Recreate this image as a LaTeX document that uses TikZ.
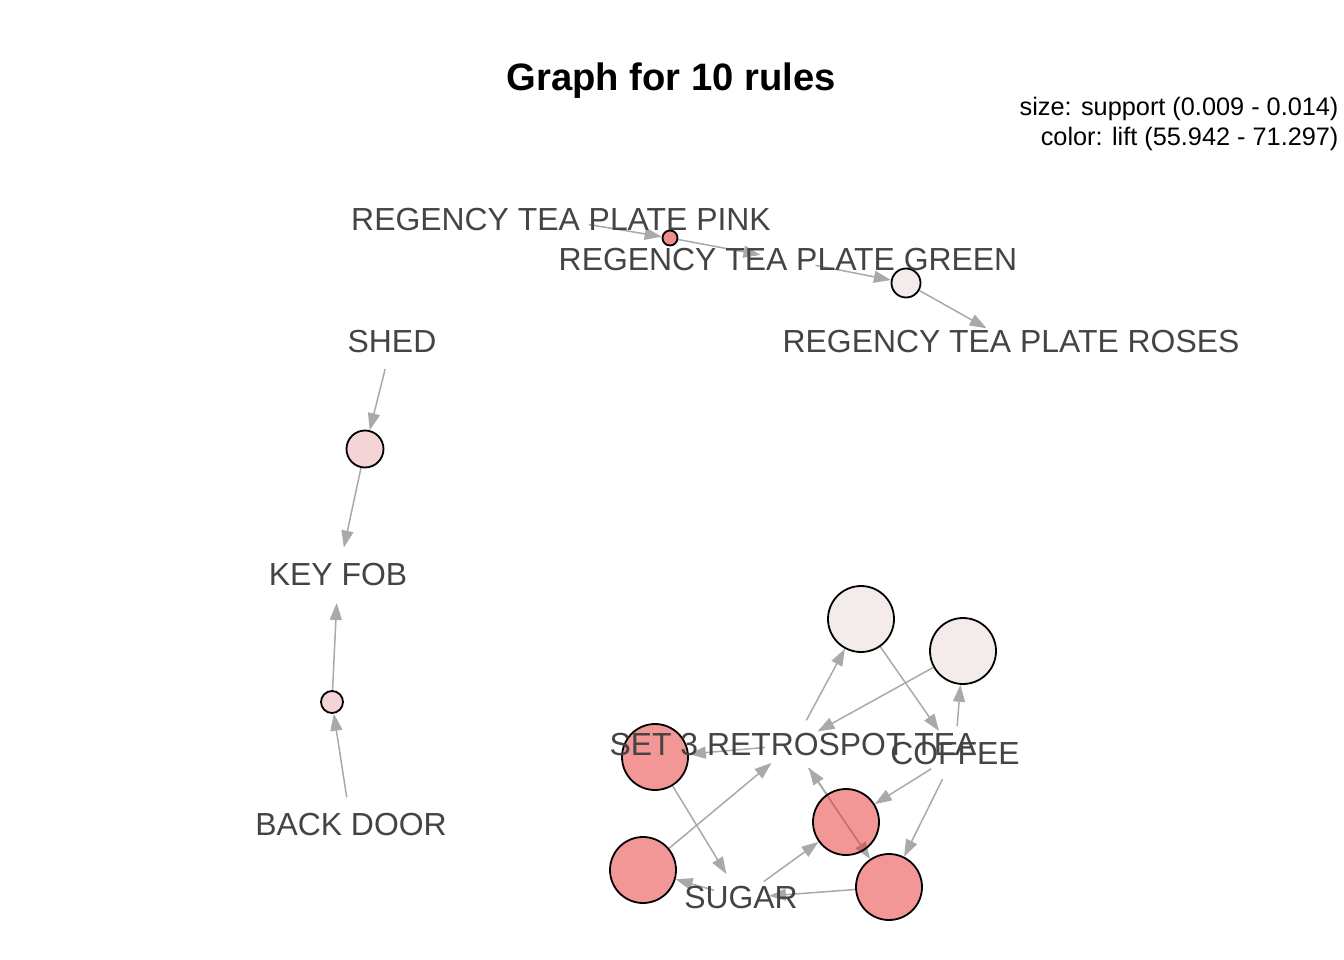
\documentclass[tikz,border=0pt]{standalone}
\usepackage{fontspec}
\setmainfont{Liberation Sans}
\usetikzlibrary{arrows.meta,backgrounds}
\definecolor{edgec}{RGB}{169,169,169}
\definecolor{txtc}{RGB}{68,68,68}
\definecolor{redc}{RGB}{229,45,45}
\definecolor{ronec}{RGB}{225,25,25}
\definecolor{palec}{RGB}{231,217,213}
\definecolor{pinkc}{RGB}{233,169,169}
\begin{document}
\begin{tikzpicture}[x=1pt,y=-1pt,
  itemv/.style={circle,minimum size=56pt,inner sep=0pt,outer sep=0pt},
  itemtxt/.style={text=txtc,font=\fontsize{31.9}{36}\selectfont,inner sep=0pt},
  rulev/.style={circle,draw=black,line width=1.8pt,inner sep=0pt,fill opacity=0.5},
  edge/.style={draw=edgec,line width=1.5pt,-{Triangle[length=17pt,width=12pt]}}]
\useasboundingbox (0,0) rectangle (1344,960);

% title and legend
\node[anchor=base,font=\bfseries\fontsize{38.2}{40}\selectfont] (title) at (671,91) {Graph for 10 rules};
\node[anchor=base east,font=\fontsize{25.3}{28}\selectfont] (leg1) at (1342,115.5) {size: support (0.009 - 0.014)};
\node[anchor=base east,font=\fontsize{25.3}{28}\selectfont] (leg2) at (1342,145.5) {color: lift (55.942 - 71.297)};

% rule vertices
\node[rulev,minimum size=15pt,fill=ronec] (r1) at (670,238) {};
\node[rulev,minimum size=29pt,fill=palec] (r2) at (906,283) {};
\node[rulev,minimum size=37pt,fill=pinkc] (r3) at (365,449) {};
\node[rulev,minimum size=22pt,fill=pinkc] (r4) at (332,702) {};
\node[rulev,minimum size=66pt,fill=palec] (ra) at (861,619) {};
\node[rulev,minimum size=66pt,fill=palec] (rb) at (963,651) {};
\node[rulev,minimum size=66pt,fill=redc] (rc) at (655,757) {};
\node[rulev,minimum size=66pt,fill=redc] (rd) at (643,870) {};
\node[rulev,minimum size=66pt,fill=redc] (re) at (846,822) {};
\node[rulev,minimum size=66pt,fill=redc] (rf) at (889,887) {};

% item vertices
\node[itemv,label={[itemtxt]center:REGENCY TEA PLATE PINK}] (pink) at (561,220) {};
\node[itemv,label={[itemtxt]center:REGENCY TEA PLATE GREEN}] (green) at (788,260) {};
\node[itemv,label={[itemtxt]center:REGENCY TEA PLATE ROSES}] (roses) at (1011,342) {};
\node[itemv,label={[itemtxt]center:SHED}] (shed) at (392,342) {};
\node[itemv,label={[itemtxt]center:KEY FOB}] (keyfob) at (338,575) {};
\node[itemv,label={[itemtxt]center:BACK DOOR}] (backdoor) at (351,825) {};
\node[itemv,label={[itemtxt]center:SET 3 RETROSPOT TEA}] (set3) at (793,745) {};
\node[itemv,label={[itemtxt]center:COFFEE}] (coffee) at (955,754) {};
\node[itemv,label={[itemtxt]center:SUGAR}] (sugar) at (741,898) {};

% edges
\begin{pgfonlayer}{background}
\draw[edge] (pink) -- (r1);
\draw[edge] (r1) -- (green);
\draw[edge] (green) -- (r2);
\draw[edge] (r2) -- (roses);
\draw[edge] (shed) -- (r3);
\draw[edge] (r3) -- (keyfob);
\draw[edge] (backdoor) -- (r4);
\draw[edge] (r4) -- (keyfob);
\draw[edge] (set3) -- (ra);
\draw[edge] (ra) -- (coffee);
\draw[edge] (coffee) -- (rb);
\draw[edge] (rb) -- (set3);
\draw[edge] (set3) -- (rc);
\draw[edge] (rc) -- (sugar);
\draw[edge] (sugar) -- (rd);
\draw[edge] (rd) -- (set3);
\draw[edge] (coffee) -- (re);
\draw[edge] (sugar) -- (re);
\draw[edge] (re) -- (set3);
\draw[edge] (coffee) -- (rf);
\draw[edge] (set3) -- (rf);
\draw[edge] (rf) -- (sugar);
\end{pgfonlayer}
\end{tikzpicture}
\end{document}
